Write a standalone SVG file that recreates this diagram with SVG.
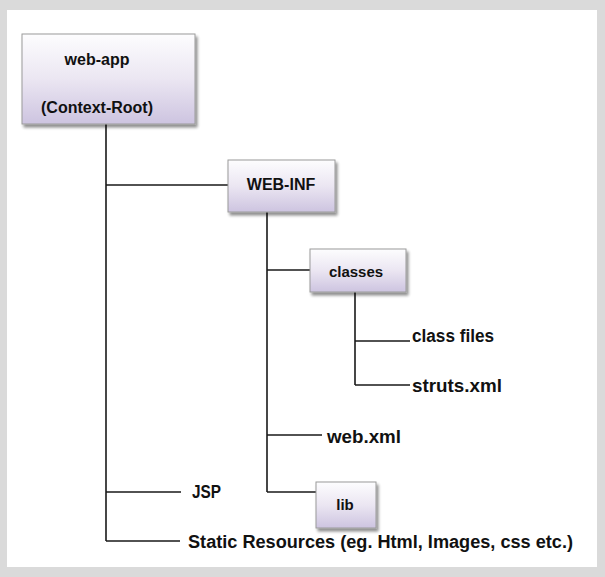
<svg xmlns="http://www.w3.org/2000/svg" width="605" height="577" viewBox="0 0 605 577">
<defs>
<linearGradient id="boxg" x1="0" y1="0" x2="0" y2="1">
<stop offset="0" stop-color="#fdfdfe"/>
<stop offset="0.5" stop-color="#ebe6f2"/>
<stop offset="1" stop-color="#cdc4e0"/>
</linearGradient>
<filter id="sh" x="-10%" y="-10%" width="130%" height="140%">
<feGaussianBlur in="SourceAlpha" stdDeviation="1.5"/>
<feOffset dx="2" dy="3" result="b"/>
<feComponentTransfer><feFuncA type="linear" slope="0.45"/></feComponentTransfer>
<feMerge><feMergeNode/><feMergeNode in="SourceGraphic"/></feMerge>
</filter>
</defs>
<style>
.box{fill:url(#boxg);stroke:#9a9a9a;stroke-width:1;filter:url(#sh)}
.t{font-family:"Liberation Sans",Arial,sans-serif;font-weight:bold;fill:#111}
.c{stroke:#1a1a1a;stroke-width:1.6;fill:none}
</style>
<rect x="0" y="0" width="605" height="577" fill="#dadada"/>
<rect x="7" y="10" width="590" height="557" fill="#ffffff"/>
<g id="connectors">
<path class="c" d="M106 124V541M106 185H228M106 492H181M106 541H180"/>
<path class="c" d="M267 212V492M267 270H310M267 435H322M267 492H316"/>
<path class="c" d="M355 292V385M355 341H410M355 385H410"/>
</g>
<g id="web-app">
<rect class="box" x="22" y="34" width="173" height="90"/>
<text class="t" x="97" y="65" font-size="16" text-anchor="middle">web-app</text>
<text class="t" x="97" y="113" font-size="16" text-anchor="middle">(Context-Root)</text>
</g>
<g id="web-inf">
<rect class="box" x="228" y="160" width="107" height="52"/>
<text class="t" x="281" y="190" font-size="16" text-anchor="middle">WEB-INF</text>
</g>
<g id="classes">
<rect class="box" x="310" y="249" width="96" height="43"/>
<text class="t" x="356" y="277" font-size="15" text-anchor="middle">classes</text>
</g>
<g id="lib">
<rect class="box" x="316" y="482" width="60" height="46"/>
<text class="t" x="345" y="510" font-size="15" text-anchor="middle">lib</text>
</g>
<g id="class-files"><text class="t" x="412" y="342" font-size="18" textLength="82" lengthAdjust="spacingAndGlyphs">class files</text></g>
<g id="struts-xml"><text class="t" x="412" y="392" font-size="18" textLength="90" lengthAdjust="spacingAndGlyphs">struts.xml</text></g>
<g id="web-xml"><text class="t" x="327" y="443" font-size="18" textLength="74" lengthAdjust="spacingAndGlyphs">web.xml</text></g>
<g id="jsp"><text class="t" x="192" y="498" font-size="18" textLength="29" lengthAdjust="spacingAndGlyphs">JSP</text></g>
<g id="static"><text class="t" x="188" y="548" font-size="18" textLength="385" lengthAdjust="spacingAndGlyphs">Static Resources (eg. Html, Images, css etc.)</text></g>
</svg>
